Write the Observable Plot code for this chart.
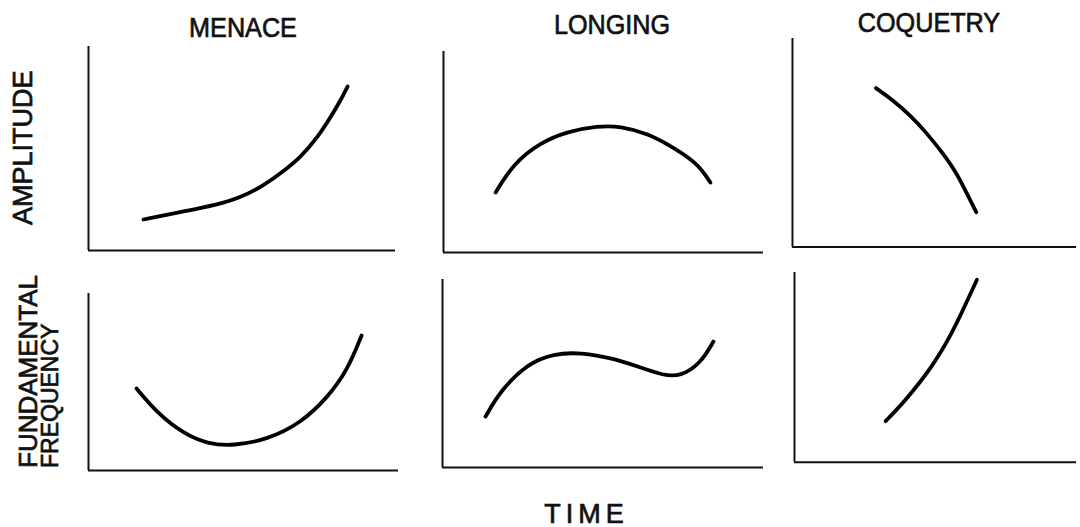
<!DOCTYPE html>
<html>
<head>
<meta charset="utf-8">
<script src="https://cdn.jsdelivr.net/npm/d3@7"></script>
<script src="https://cdn.jsdelivr.net/npm/@observablehq/plot@0.6"></script>
<style>
  body { margin: 0; background: #fff; }
  #root { position: relative; width: 1080px; height: 527px; overflow: hidden;
          font-family: "Liberation Sans", Arial, sans-serif; color: #111; background: #fff; }
  .lbl { position: absolute; white-space: nowrap; line-height: 1; -webkit-text-stroke: 0.7px #111; }
  .panel { position: absolute; }
</style>
</head>
<body>
<div id="root"></div>
<script>
// ---- Text ----
const emotions = ["MENACE", "LONGING", "COQUETRY"];
const measures = ["AMPLITUDE", "FUNDAMENTAL", "FREQUENCY"];
const timeLabel = "TIME";

// ---- Curves: [time, value] on a 0–100 scale of each panel's axes ----
const menaceAmplitude = [[17.9,15.2],[30.9,19.1],[42.0,22.5],[49.5,26.0],[56.0,30.9],[62.5,37.7],[69.1,45.6],[74.6,55.4],[78.8,65.2],[82.1,73.5],[84.4,80.4]];
const longingAmplitude = [[16.3,29.9],[21.9,44.3],[30.3,54.7],[38.8,60.2],[48.1,62.9],[55.3,62.9],[63.8,59.2],[71.9,52.2],[79.4,44.3],[83.4,34.8]];
const coquetryAmplitude = [[29.4,76.2],[35.3,70.5],[41.3,63.3],[47.2,54.8],[52.8,45.2],[57.7,35.7],[61.2,26.2],[64.7,16.7]];
const menaceFrequency = [[15.5,46.3],[22.3,32.2],[30.6,20.9],[38.4,15.0],[46.8,13.9],[57.7,17.5],[68.4,26.6],[77.1,41.2],[83.5,56.5],[88.1,76.3]];
const longingFrequency = [[13.4,27.1],[18.1,41.0],[26.5,55.3],[34.6,60.6],[43.0,61.2],[53.3,58.0],[61.7,53.2],[68.8,49.0],[74.1,48.4],[80.4,55.3],[84.4,67.0]];
const coquetryFrequency = [[32.3,21.6],[36.2,27.6],[39.7,33.4],[44.4,41.9],[48.5,50.1],[52.0,58.2],[55.0,66.0],[58.0,74.7],[61.0,84.3],[64.7,96.2]];

// ---- Layout (pixel boxes of each panel's axes) ----
const panels = [
  {data: menaceAmplitude,   left: 88,  right: 395,  top: 46,  bottom: 250},
  {data: longingAmplitude,  left: 443, right: 763,  top: 51,  bottom: 252},
  {data: coquetryAmplitude, left: 792, right: 1078, top: 38,  bottom: 248},
  {data: menaceFrequency,   left: 88,  right: 398,  top: 293, bottom: 470},
  {data: longingFrequency,  left: 442, right: 763,  top: 279, bottom: 467},
  {data: coquetryFrequency, left: 794, right: 1078, top: 272, bottom: 463}
];

const root = document.getElementById("root");
const m = 4;
for (const p of panels) {
  const W = p.right - p.left, H = p.bottom - p.top;
  const chart = Plot.plot({
    width: W + 2 * m, height: H + 2 * m,
    marginTop: m, marginRight: m, marginBottom: m, marginLeft: m,
    x: {domain: [0, 100], axis: null},
    y: {domain: [0, 100], axis: null},
    style: {background: "transparent", overflow: "visible"},
    marks: [
      Plot.ruleX([0], {stroke: "#111", strokeWidth: 2}),
      Plot.ruleY([0], {stroke: "#111", strokeWidth: 2}),
      Plot.line(p.data, {x: d => d[0], y: d => d[1], curve: "basis",
        stroke: "#000", strokeWidth: 3.8, strokeLinecap: "round"})
    ]
  });
  const wrap = document.createElement("div");
  wrap.className = "panel";
  wrap.style.left = (p.left - m) + "px";
  wrap.style.top = (p.top - m) + "px";
  wrap.appendChild(chart);
  root.appendChild(wrap);
}

function label(text, opts) {
  const d = document.createElement("div");
  d.className = "lbl";
  d.textContent = text;
  Object.assign(d.style, opts);
  root.appendChild(d);
  return d;
}

// Column titles
const titleX = [243, 612, 929];
const titleTop = [14.4, 11.4, 9.4];
emotions.forEach((t, i) => label(t, {
  left: titleX[i] + "px", top: titleTop[i] + "px", fontSize: "28px",
  transform: "translateX(-50%) scaleX(0.9)"
}));

// Row labels (rotated, reading bottom to top)
label(measures[0], {left: "9.5px", top: "225px", fontSize: "27px",
  transformOrigin: "0 0", transform: "rotate(-90deg)"});
label(measures[1], {left: "14.6px", top: "468px", fontSize: "26px",
  transformOrigin: "0 0", transform: "rotate(-90deg)"});
label(measures[2], {left: "39px", top: "468px", fontSize: "23px",
  transformOrigin: "0 0", transform: "rotate(-90deg)"});

// Bottom label
label(timeLabel, {left: "584px", top: "502.5px", fontSize: "27px", lineHeight: "0.85",
  letterSpacing: "5px", paddingLeft: "5px", transform: "translateX(-50%)"});
</script>
</body>
</html>
